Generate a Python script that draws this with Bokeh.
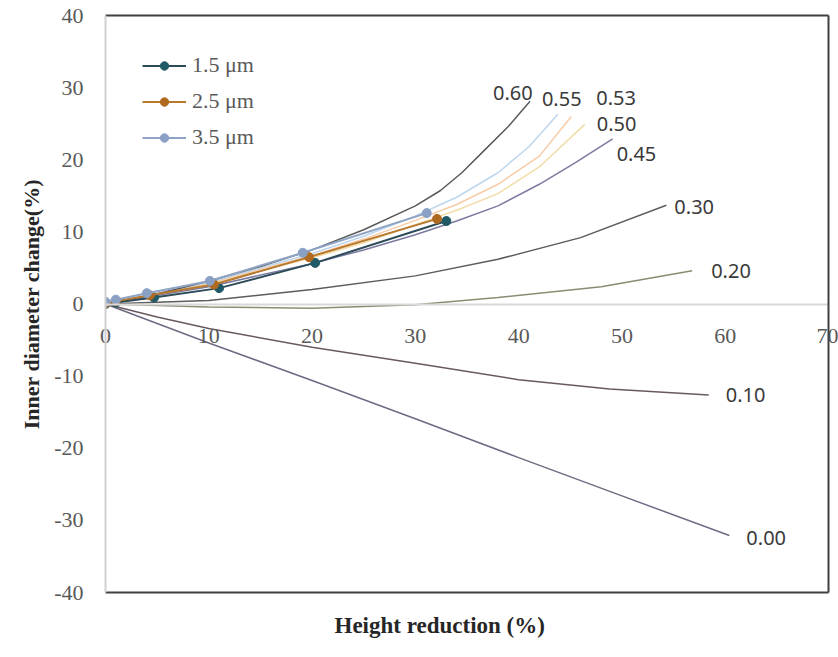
from bokeh.plotting import figure
from bokeh.models import (Range1d, LinearAxis, FixedTicker, Title, Legend, LegendItem,
                          PrintfTickFormatter)
from bokeh.embed import file_html
from bokeh.resources import INLINE
from bokeh.core.properties import value

# ---------------- data ----------------
x_ticks = [0, 10, 20, 30, 40, 50, 60, 70]
y_ticks = [-40, -30, -20, -10, 0, 10, 20, 30, 40]

# theoretical curves, labelled by friction coefficient
f000_x = [0, 10, 20, 30, 40, 50, 60.4]
f000_y = [0, -5.4, -10.6, -15.9, -21.3, -26.6, -32.1]
f010_x = [0, 5, 10, 20, 30, 40, 48.8, 58.4]
f010_y = [0, -1.8, -3.4, -6.0, -8.2, -10.5, -11.8, -12.6]
f020_x = [0, 10, 20, 30, 38, 48, 56.8]
f020_y = [0, -0.4, -0.6, -0.1, 0.9, 2.4, 4.6]
f030_x = [0, 10, 20, 30, 38, 46, 54.3]
f030_y = [0, 0.5, 2.0, 3.9, 6.2, 9.2, 13.7]
f045_x = [0, 10, 20, 25, 30, 34, 38, 42, 45.5, 49.1]
f045_y = [0, 2.4, 5.6, 7.5, 9.6, 11.5, 13.6, 16.6, 19.6, 22.9]
f050_x = [0, 10, 20, 25, 30, 34, 38, 42, 46.4]
f050_y = [0, 2.8, 6.4, 8.5, 11.0, 13.0, 15.3, 19.0, 24.9]
f053_x = [0, 10, 20, 25, 30, 34, 38, 42, 45.1]
f053_y = [0, 2.9, 6.7, 9.0, 11.6, 13.8, 16.6, 20.5, 26.0]
f055_x = [0, 10, 20, 25, 30, 34, 38, 41, 43.8]
f055_y = [0, 3.0, 7.0, 9.4, 12.2, 14.8, 18.2, 21.8, 26.3]
f060_x = [0, 5, 10, 15, 20, 25, 30, 32.4, 34.5, 36.6, 39, 41.1]
f060_y = [0, 1.4, 3.2, 5.2, 7.5, 10.3, 13.6, 15.7, 18.2, 21.2, 24.6, 28.1]

curve_labels = ["0.00", "0.10", "0.20", "0.30", "0.45", "0.50", "0.53", "0.55", "0.60"]

# experimental series
exp_names = ["1.5 \u03bcm", "2.5 \u03bcm", "3.5 \u03bcm"]
e15_x = [0, 1.0, 4.7, 11.0, 20.3, 33.0]
e15_y = [0, 0.2, 0.9, 2.2, 5.7, 11.5]
e25_x = [0, 1.0, 4.3, 10.5, 19.7, 32.1]
e25_y = [0.1, 0.4, 1.2, 2.7, 6.5, 11.8]
e35_x = [0, 1.0, 4.0, 10.1, 19.1, 31.1]
e35_y = [0.3, 0.6, 1.5, 3.2, 7.1, 12.6]

# ---------------- figure ----------------
SERIF = "Liberation Serif"
p = figure(width=838, height=657, x_range=Range1d(0, 70), y_range=Range1d(-40, 40),
           output_backend="svg", toolbar_location=None,
           x_axis_location=None, y_axis_location="left",
           min_border_left=105, min_border_right=10, min_border_top=15, min_border_bottom=65)
p.outline_line_color = None
p.xgrid.visible = False
p.ygrid.visible = False
p.background_fill_color = "white"
p.border_fill_color = "white"

# y axis
ya = p.yaxis[0]
ya.ticker = FixedTicker(ticks=y_ticks)
ya.formatter = PrintfTickFormatter(format="%d")
ya.axis_line_color = "#d0d0d0"
ya.axis_line_width = 2
ya.major_tick_out = 0
ya.major_tick_in = 0
ya.minor_tick_out = 0
ya.minor_tick_in = 0
ya.major_label_standoff = 22
ya.major_label_text_font = SERIF
ya.major_label_text_font_size = "22px"
ya.major_label_text_color = "#595959"
ya.axis_label = "Inner diameter change(%)"
ya.axis_label_text_font = SERIF
ya.axis_label_text_font_style = "bold"
ya.axis_label_text_font_size = "22px"
ya.axis_label_text_color = "#262626"
ya.axis_label_standoff = 7

def border_axis():
    return LinearAxis(ticker=FixedTicker(ticks=[]), axis_line_color="#404040", axis_line_width=2,
                      major_tick_out=0, major_tick_in=0, minor_tick_out=0, minor_tick_in=0)

p.add_layout(border_axis(), "above")
p.add_layout(border_axis(), "right")

# bottom border axis carrying the x tick labels, lifted up under the y = 0 line
xb = LinearAxis(ticker=FixedTicker(ticks=x_ticks), formatter=PrintfTickFormatter(format="%d"),
                axis_line_color="#404040", axis_line_width=2,
                major_tick_out=0, major_tick_in=0, minor_tick_out=0, minor_tick_in=0,
                major_label_standoff=-264, major_label_text_font=SERIF,
                major_label_text_font_size="22px", major_label_text_color="#595959")
p.add_layout(xb, "below")

# horizontal axis line crossing at y = 0
x0 = LinearAxis(fixed_location=0, ticker=FixedTicker(ticks=[]),
                axis_line_color="#d9d9d9", axis_line_width=2,
                major_tick_out=0, major_tick_in=0, minor_tick_out=0, minor_tick_in=0)
p.add_layout(x0, "below")

# theoretical curves
curves = [
    (f000_x, f000_y, "#6e6a82", (17, 2)),
    (f010_x, f010_y, "#6a5860", (17, 0)),
    (f020_x, f020_y, "#8c8c72", (19, 0)),
    (f030_x, f030_y, "#5c5c5c", (8, 2)),
    (f045_x, f045_y, "#7a7aa0", (4, 15)),
    (f050_x, f050_y, "#f2dca8", (12, 0)),
    (f053_x, f053_y, "#f6cba6", (25, -18)),
    (f055_x, f055_y, "#bcd6ee", (-16, -15)),
    (f060_x, f060_y, "#5a5a5a", (-37, -8)),
]
for (cx, cy, col, off), lab in zip(curves, curve_labels):
    p.line(cx, cy, line_color=col, line_width=1.5)
    p.text(x=[cx[-1]], y=[cy[-1]], text=[lab], x_offset=off[0], y_offset=off[1],
           text_align="left", text_baseline="middle", text_font=value("Noto Sans"),
           text_font_size="20px", text_color="#3a3a3a")

# experimental series
exp = [
    (e15_x, e15_y, "#2c4a58", "#1f5a66"),
    (e25_x, e25_y, "#b8782e", "#b06a20"),
    (e35_x, e35_y, "#8fa4c4", "#8aa0c4"),
]
items = []
for (ex, ey, lc, mc), name in zip(exp, exp_names):
    r1 = p.line(ex, ey, line_color=lc, line_width=2)
    r2 = p.scatter(ex, ey, marker="circle", size=9, fill_color=mc, line_color=mc)
    items.append(LegendItem(label=name, renderers=[r1, r2]))

leg = Legend(items=items, location="top_left", margin=37, padding=0,
             glyph_width=44, glyph_height=21, label_height=21, spacing=10,
             label_standoff=6, label_text_font=SERIF, label_text_font_size="22px",
             label_text_color="#595959", background_fill_alpha=0, border_line_color=None)
p.add_layout(leg, "center")

# x axis title
p.add_layout(Title(text="Height reduction (%)", align="left", offset=229, standoff=37,
                   text_font=SERIF, text_font_style="bold", text_font_size="23px",
                   text_color="#262626"), "below")

open("out.html", "w").write(file_html(p, INLINE))
